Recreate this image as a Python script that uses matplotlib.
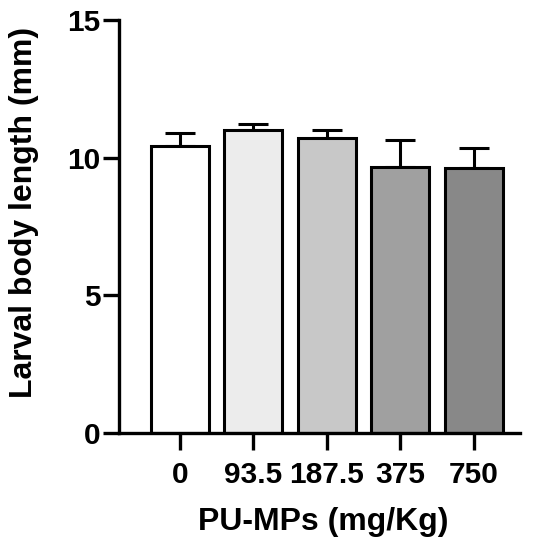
import matplotlib
matplotlib.use("Agg")
import matplotlib.pyplot as plt

plt.rcParams["font.family"] = ["Liberation Sans", "DejaVu Sans"]
plt.rcParams["font.weight"] = "bold"

doses = ["0", "93.5", "187.5", "375", "750"]
body_length = [10.43, 11.02, 10.72, 9.66, 9.64]
sem = [0.47, 0.22, 0.28, 0.98, 0.70]
colors = ["#ffffff", "#ececec", "#c8c8c8", "#a0a0a0", "#888888"]


def main():
    fig = plt.figure(figsize=(5.41, 5.5), dpi=100)
    ax = fig.add_axes([0.22, 0.2127, 0.741, 0.751])

    x = list(range(len(doses)))
    ax.bar(x, body_length, width=0.79, color=colors, edgecolor="black",
           linewidth=2.2, zorder=2)
    ax.errorbar(x, body_length, yerr=[[0] * len(sem), sem], fmt="none",
                ecolor="black", elinewidth=2.2, capsize=11, capthick=2.2,
                zorder=1)

    ax.set_xlim(-0.83, 4.63)
    ax.set_ylim(0, 15)
    ax.set_yticks([0, 5, 10, 15])
    ax.set_xticks(x)
    ax.set_xticklabels(doses)

    for side in ["top", "right"]:
        ax.spines[side].set_visible(False)
    for side in ["left", "bottom"]:
        ax.spines[side].set_linewidth(2.4)

    ax.tick_params(axis="both", width=2.4, labelsize=21.5)
    ax.tick_params(axis="y", length=11.5, pad=2)
    ax.tick_params(axis="x", length=12, pad=8)
    for lbl in ax.get_xticklabels() + ax.get_yticklabels():
        lbl.set_fontweight("bold")

    ax.set_ylabel("Larval body length (mm)", fontsize=23, fontweight="bold")
    ax.yaxis.set_label_coords(-0.2, 0.533)
    ax.set_xlabel("PU-MPs (mg/Kg)", fontsize=23, fontweight="bold", labelpad=15)
    ax.xaxis.set_label_coords(0.51, -0.18)

    fig.savefig("out.png", dpi=100)
    plt.close(fig)


if __name__ == "__main__":
    main()
